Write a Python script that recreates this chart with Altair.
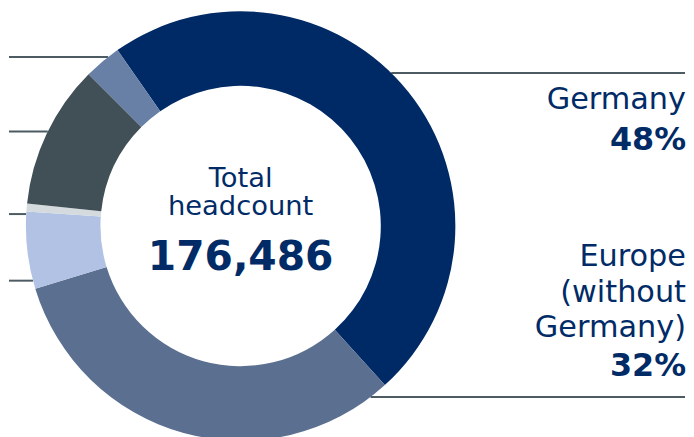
import math
import altair as alt
import pandas as pd

# ---- data ----
segments = ["Germany", "Europe (without Germany)", "Asia", "Africa", "Americas", "Other"]
shares = [48.0, 32.0, 5.8, 0.6, 10.8, 2.8]
colors = ["#002a66", "#5b6f90", "#b1c2e4", "#d4dadd", "#414f56", "#6880a6"]

center_lines = ["Total", "headcount"]
center_value = "176,486"
right_labels = [["Germany"], ["Europe", "(without", "Germany)"]]
right_pcts = ["48%", "32%"]

# ---- layout ----
W, H = 678, 421
cx, cy = 233, 218
R_out, R_in = 216, 141
start = math.radians(-35) + 2 * math.pi
NAVY = "#002b67"
FONT = "DejaVu Sans"
LINE = "#4d5b62"

df = pd.DataFrame({"seg": segments, "share": shares, "idx": list(range(len(segments)))})

donut = alt.Chart(df).mark_arc(stroke=None).encode(
    theta=alt.Theta("share:Q", stack=True, scale=alt.Scale(range=[start, start + 2 * math.pi])),
    order=alt.Order("idx:Q"),
    color=alt.Color("seg:N", scale=alt.Scale(domain=segments, range=colors), legend=None),
    x=alt.value(cx), y=alt.value(cy),
    radius=alt.value(R_out), radius2=alt.value(R_in),
)

def edge_x(y, side):
    d = R_out ** 2 - (y - cy) ** 2
    return cx + side * math.sqrt(max(d, 0))

left_ys = [48, 123, 206, 273]
right_ys = [64, 390]
rows = []
for y in left_ys:
    rows.append({"x": 0, "x2": edge_x(y, -1), "y": y})
for y in right_ys:
    rows.append({"x": edge_x(y, 1), "x2": 680, "y": y})
lines = alt.Chart(pd.DataFrame(rows)).mark_rule(color=LINE, strokeWidth=2).encode(
    x=alt.X("x:Q", scale=None), x2="x2:Q", y=alt.Y("y:Q", scale=None)
)

# center text
ctext_rows = [
    {"t": center_lines[0], "y": 179},
    {"t": center_lines[1], "y": 207},
]
center_reg = alt.Chart(pd.DataFrame(ctext_rows)).mark_text(
    font=FONT, fontSize=27.5, color=NAVY, align="center", baseline="alphabetic"
).encode(text="t:N", x=alt.value(cx), y=alt.Y("y:Q", scale=None))
center_bold = alt.Chart(pd.DataFrame({"t": [center_value], "y": [262]})).mark_text(
    font=FONT, fontSize=41, fontWeight="bold", color=NAVY, align="center", baseline="alphabetic"
).encode(text="t:N", x=alt.value(cx), y=alt.Y("y:Q", scale=None))

# right labels
reg_rows = []
reg_y = [[100], [258, 294, 330]]
for lbls, ys in zip(right_labels, reg_y):
    for t, y in zip(lbls, ys):
        reg_rows.append({"t": t, "y": y})
right_reg = alt.Chart(pd.DataFrame(reg_rows)).mark_text(
    font=FONT, fontSize=30.5, color=NAVY, align="right", baseline="alphabetic"
).encode(text="t:N", x=alt.value(681), y=alt.Y("y:Q", scale=None))
right_bold = alt.Chart(pd.DataFrame({"t": right_pcts, "y": [142, 369]})).mark_text(
    font=FONT, fontSize=32, fontWeight="bold", color=NAVY, align="right", baseline="alphabetic"
).encode(text="t:N", x=alt.value(681), y=alt.Y("y:Q", scale=None))

chart = alt.layer(lines, donut, center_reg, center_bold, right_reg, right_bold).properties(
    width=W, height=H, padding=0
).configure_view(stroke=None)

chart.save("out.html", embed_options={"renderer": "svg", "actions": False})
